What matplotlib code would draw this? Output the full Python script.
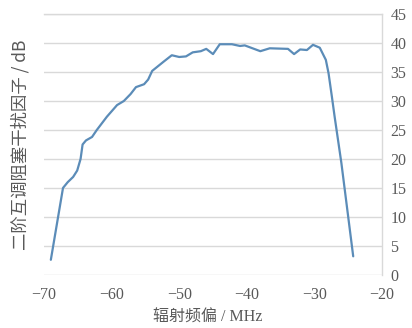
import matplotlib
matplotlib.use("Agg")
import matplotlib.pyplot as plt

# 辐射频偏 (MHz) 与二阶互调阻塞干扰因子 (dB)
freq_offset = [-69.0, -67.2, -66.5, -65.7, -65.1, -64.6, -64.3, -63.8, -62.9, -62.2,
               -60.7, -59.2, -58.2, -57.2, -56.4, -55.2, -54.6, -54.0, -52.3, -51.1,
               -50.0, -49.0, -48.0, -46.8, -46.0, -45.0, -44.0, -42.2, -41.0, -40.3,
               -38.0, -36.6, -33.9, -33.0, -32.1, -31.1, -30.2, -29.2, -28.3, -27.9,
               -27.4, -27.0, -26.5, -26.0, -25.5, -25.0, -24.25]
block_factor = [2.6, 15.0, 16.0, 16.9, 18.0, 20.0, 22.5, 23.2, 23.8, 25.0,
                27.3, 29.3, 30.0, 31.2, 32.4, 32.9, 33.7, 35.2, 36.8, 37.9,
                37.6, 37.7, 38.4, 38.6, 39.0, 38.1, 39.8, 39.8, 39.5, 39.6,
                38.6, 39.1, 39.0, 38.1, 38.9, 38.8, 39.7, 39.2, 37.1, 34.8,
                30.7, 27.3, 23.3, 19.3, 14.7, 10.1, 3.2]

x_ticks = [-70, -60, -50, -40, -30, -20]
y_ticks = [0, 5, 10, 15, 20, 25, 30, 35, 40, 45]

line_color = '#5b8cb8'
grid_color = '#d9d9d9'
text_color = '#595959'
serif = ['Liberation Serif', 'Noto Sans CJK SC']
cjk = ['Noto Sans CJK SC', 'DejaVu Sans']

fig = plt.figure(figsize=(4.12, 3.28), dpi=100)
ax = fig.add_axes([0.107, 0.162, 0.82, 0.795])

ax.plot(freq_offset, block_factor, color=line_color, linewidth=1.6,
        solid_joinstyle='round', solid_capstyle='round')

ax.set_xlim(-70, -20)
ax.set_ylim(0, 45)
ax.set_xticks(x_ticks)
ax.set_yticks(y_ticks)
ax.set_xticklabels(['\u2212%d' % abs(v) for v in x_ticks], family=serif,
                   fontsize=11.5, color=text_color)
ax.set_yticklabels([str(v) for v in y_ticks], family=serif,
                   fontsize=11.5, color=text_color)

ax.yaxis.tick_right()
ax.tick_params(axis='both', length=0)
ax.tick_params(axis='x', pad=9)
ax.tick_params(axis='y', pad=6)

ax.grid(axis='y', color=grid_color, linewidth=1)
ax.set_axisbelow(True)
for side in ['left', 'bottom']:
    ax.spines[side].set_visible(False)
for side in ['right', 'top']:
    ax.spines[side].set_color(grid_color)
    ax.spines[side].set_linewidth(1)

fig.text(0.505, 0.032, '辐射频偏 / MHz', ha='center', va='center',
         family=serif, fontsize=11.5, color=text_color)
fig.text(0.05, 0.558, '二阶互调阻塞干扰因子 / dB', ha='center', va='center',
         rotation=90, family=cjk, fontsize=12.5, color=text_color)

fig.savefig('out.png', dpi=100)
